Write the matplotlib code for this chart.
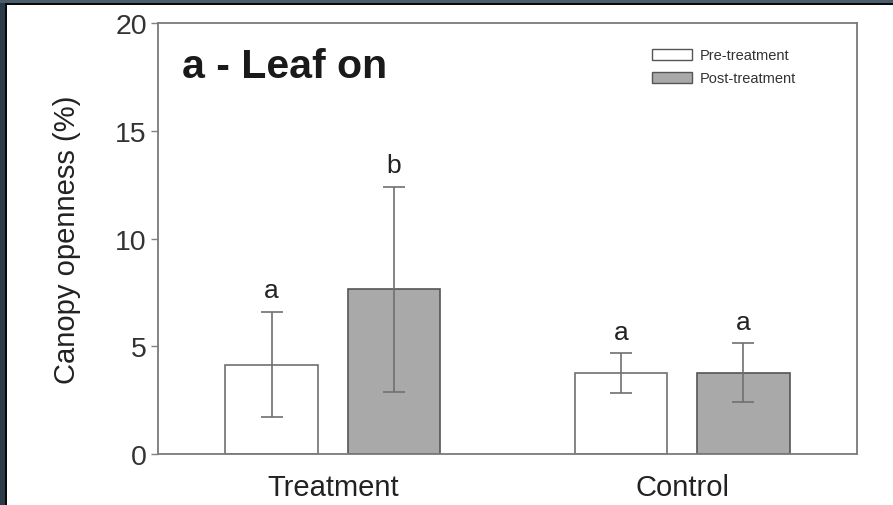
import matplotlib
matplotlib.use("Agg")
import matplotlib.pyplot as plt
from matplotlib.patches import Rectangle, Patch

# data
groups = ["Treatment", "Control"]
pre_means = [4.15, 3.75]
pre_err = [2.45, 0.92]
post_means = [7.65, 3.78]
post_err = [4.75, 1.35]
pre_letters = ["a", "a"]
post_letters = ["b", "a"]

plt.rcParams["font.family"] = ["Liberation Sans", "DejaVu Sans"]

fig = plt.figure(figsize=(8.93, 5.06), dpi=100)
fig.patch.set_facecolor("white")

# dark frame on top/left edge of the screenshot
fig.patches.append(Rectangle((0, 0), 6 / 893, 1, transform=fig.transFigure,
                             facecolor="#2c3b48", edgecolor="none", zorder=-1))
fig.patches.append(Rectangle((5 / 893, 0), 2 / 893, 1 - 3 / 506, transform=fig.transFigure,
                             facecolor="#0a0a0a", edgecolor="none", zorder=-1))
fig.patches.append(Rectangle((0, 1 - 4 / 506), 1, 4 / 506, transform=fig.transFigure,
                             facecolor="#4a5d6c", edgecolor="none", zorder=-1))
fig.patches.append(Rectangle((5 / 893, 1 - 6 / 506), 1, 2 / 506, transform=fig.transFigure,
                             facecolor="#0a0a0a", edgecolor="none", zorder=-1))

ax = fig.add_axes([158 / 893, 1 - 455 / 506, 699 / 893, 431 / 506])

x = [1, 2]
w = 0.264
off = 0.175
xp = [v - off for v in x]
xq = [v + off for v in x]

ekw = dict(ecolor="#707070", elinewidth=1.2, capsize=8, capthick=1.2)
ax.bar(xp, pre_means, w, color="white", edgecolor="#707070", linewidth=1.2,
       yerr=pre_err, error_kw=ekw, label="Pre-treatment")
ax.bar(xq, post_means, w, color="#a9a9a9", edgecolor="#555555", linewidth=1.2,
       yerr=post_err, error_kw=ekw, label="Post-treatment")

for xi, m, e, t in zip(xp, pre_means, pre_err, pre_letters):
    ax.text(xi, m + e + 0.45, t, ha="center", va="bottom", fontsize=19, color="#222222")
for xi, m, e, t in zip(xq, post_means, post_err, post_letters):
    ax.text(xi, m + e + 0.45, t, ha="center", va="bottom", fontsize=19, color="#222222")

ax.set_xlim(0.5, 2.5)
ax.set_ylim(0, 20)
ax.set_yticks([0, 5, 10, 15, 20])
ax.set_xticks(x)
ax.set_xticklabels(groups, fontsize=21, color="#222222")
ax.tick_params(axis="x", length=0, pad=14)
ax.tick_params(axis="y", length=5, width=1, color="#808080", labelsize=20.5,
               labelcolor="#333333", pad=3)
ax.set_ylabel("Canopy openness (%)", fontsize=21, color="#222222", labelpad=25)

for s in ax.spines.values():
    s.set_color("#7a7a7a")
    s.set_linewidth(1.3)

ax.text(0.035, 0.9, "a - Leaf on", transform=ax.transAxes, fontsize=29.5,
        fontweight="bold", color="#1a1a1a", ha="left", va="center")

handles = [Patch(facecolor="white", edgecolor="#555555", label="Pre-treatment"),
           Patch(facecolor="#a9a9a9", edgecolor="#555555", label="Post-treatment")]
ax.legend(handles=handles, loc="upper left", bbox_to_anchor=(0.69, 0.968),
          frameon=False, fontsize=10.5, handlelength=2.75, handleheight=0.8,
          handletextpad=0.5, labelspacing=0.6, labelcolor="#333333",
          borderpad=0.3)

fig.savefig("out.png", dpi=100)
